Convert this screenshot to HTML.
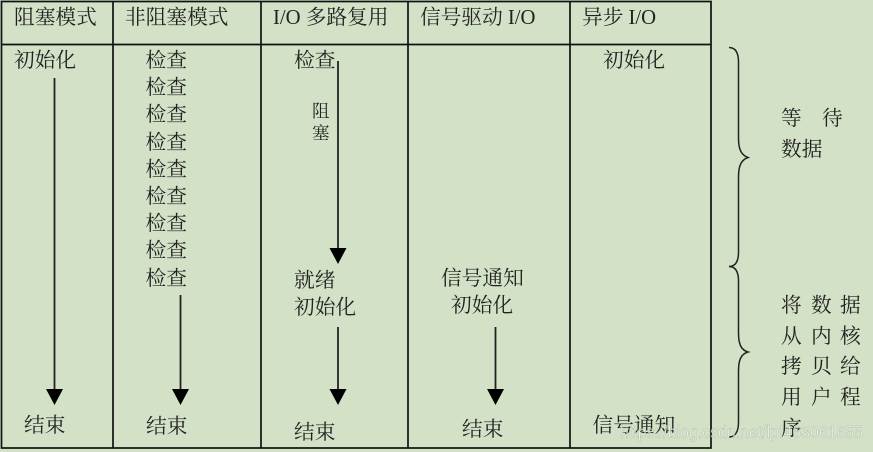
<!DOCTYPE html>
<html lang="zh">
<head>
<meta charset="utf-8">
<style>
html,body{margin:0;padding:0;background:#d3e2c7;}
svg{display:block;}
text{font-family:"Liberation Serif","Noto Serif CJK SC",serif;font-size:20.7px;fill:#222;}
.s{font-size:17.5px;}
.w{font-family:"Liberation Sans",sans-serif;font-size:17.4px;fill:#f4f8f0;fill-opacity:.72;stroke:#6f7a68;stroke-opacity:.4;stroke-width:.5;}
.l{stroke:#111;stroke-width:1.7;fill:none;}
.a{stroke:#222;stroke-width:1.8;fill:none;}
.b{stroke:#222;stroke-width:1.5;fill:none;}
</style>
</head>
<body>
<svg width="873" height="452" viewBox="0 0 873 452" xmlns="http://www.w3.org/2000/svg">
<rect width="873" height="452" fill="#d3e2c7"/>
<!-- table -->
<rect class="l" x="1.5" y="1.5" width="709.5" height="446.5"/>
<line class="l" x1="1.5" y1="44.5" x2="711" y2="44.5"/>
<line class="l" x1="113" y1="1.5" x2="113" y2="448"/>
<line class="l" x1="261" y1="1.5" x2="261" y2="448"/>
<line class="l" x1="408" y1="1.5" x2="408" y2="448"/>
<line class="l" x1="570" y1="1.5" x2="570" y2="448"/>
<!-- header -->
<text x="14" y="24">阻塞模式</text>
<text x="125" y="24">非阻塞模式</text>
<text x="273" y="24">I/O 多路复用</text>
<text x="420" y="24">信号驱动 I/O</text>
<text x="582" y="24">异步 I/O</text>
<!-- col 1 -->
<text x="14" y="67">初始化</text>
<line class="a" x1="54.5" y1="78" x2="54.5" y2="390"/>
<polygon points="46,389 63,389 54.5,405" fill="#000"/>
<text x="24" y="432">结束</text>
<!-- col 2 -->
<text x="145.5" y="67">检查</text>
<text x="145.5" y="94">检查</text>
<text x="145.5" y="121">检查</text>
<text x="145.5" y="149">检查</text>
<text x="145.5" y="176">检查</text>
<text x="145.5" y="203">检查</text>
<text x="145.5" y="230">检查</text>
<text x="145.5" y="257">检查</text>
<text x="145.5" y="285">检查</text>
<line class="a" x1="180.5" y1="295" x2="180.5" y2="390"/>
<polygon points="172,389 189,389 180.5,405" fill="#000"/>
<text x="146" y="433">结束</text>
<!-- col 3 -->
<text x="294" y="67">检查</text>
<line class="a" x1="338" y1="61" x2="338" y2="249"/>
<polygon points="329.5,248 346.5,248 338,264" fill="#000"/>
<text class="s" x="312" y="117">阻</text>
<text class="s" x="312" y="139">塞</text>
<text x="294" y="287">就绪</text>
<text x="294" y="314">初始化</text>
<line class="a" x1="338" y1="327" x2="338" y2="390"/>
<polygon points="329.5,389 346.5,389 338,405" fill="#000"/>
<text x="294" y="439">结束</text>
<!-- col 4 -->
<text x="441" y="285">信号通知</text>
<text x="451" y="312">初始化</text>
<line class="a" x1="495.5" y1="327" x2="495.5" y2="390"/>
<polygon points="487,389 504,389 495.5,405" fill="#000"/>
<text x="462" y="436">结束</text>
<!-- col 5 -->
<text x="603" y="67">初始化</text>
<text x="592.5" y="432">信号通知</text>
<!-- braces -->
<path class="b" d="M729,47.5 C735,47.5 738.5,52 738.5,62 L738.5,138 C738.5,149 741,155 748,157.5 C741,160 738.5,166 738.5,177 L738.5,252 C738.5,262 735,266.5 729,266.5"/>
<path class="b" d="M729,266.5 C735,266.5 738.5,271 738.5,281 L738.5,333 C738.5,344 741,350 748,352 C741,354 738.5,360 738.5,371 L738.5,422 C738.5,432 735,437 729,437"/>
<!-- right labels -->
<text x="781" y="125">等</text>
<text x="822" y="125">待</text>
<text x="781" y="156">数据</text>
<text x="781" y="312">将</text>
<text x="811" y="312">数</text>
<text x="840" y="312">据</text>
<text x="781" y="343">从</text>
<text x="811" y="343">内</text>
<text x="840" y="343">核</text>
<text x="781" y="373">拷</text>
<text x="811" y="373">贝</text>
<text x="840" y="373">给</text>
<text x="781" y="404">用</text>
<text x="811" y="404">户</text>
<text x="840" y="404">程</text>
<text x="781" y="435">序</text>
<!-- watermark -->
<text class="w" x="620" y="438" textLength="243" lengthAdjust="spacingAndGlyphs">https://blog.csdn.net/lpf463061655</text>
</svg>
</body>
</html>
